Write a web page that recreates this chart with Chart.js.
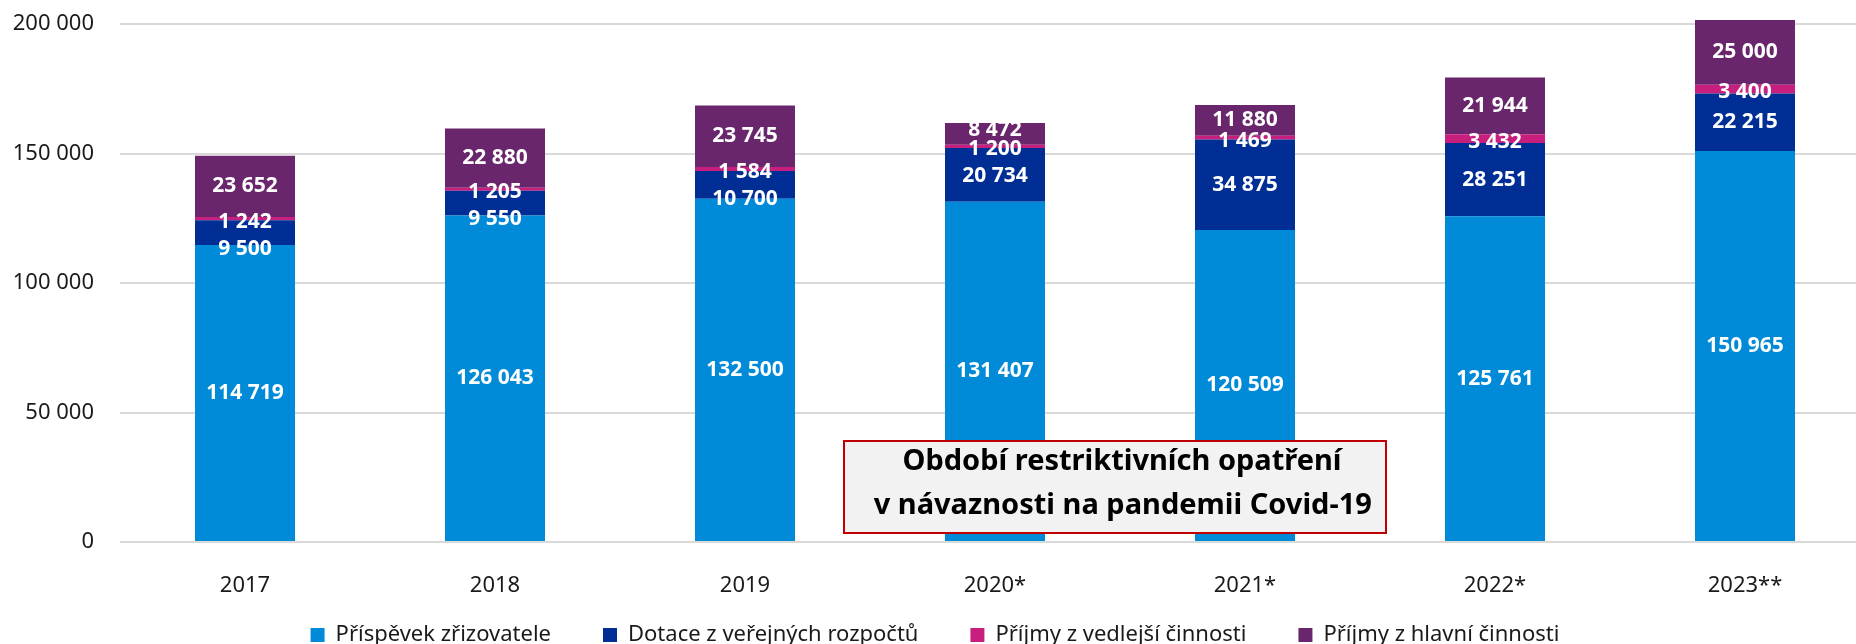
<!DOCTYPE html>
<html lang="cs">
<head>
<meta charset="utf-8">
<title>Financování</title>
<script src="https://cdn.jsdelivr.net/npm/chart.js@4/dist/chart.umd.min.js"></script>
<style>
    html, body { margin: 0; padding: 0; background: #fff; overflow: hidden; }
    .chart-wrap { position: absolute; left: 0; top: 0; width: 1870px; height: 656px; }
</style>
</head>
<body>
<div class="chart-wrap"><canvas id="chart"></canvas></div>
<script>
// Data z grafu
const years = ['2017', '2018', '2019', '2020*', '2021*', '2022*', '2023**'];
const prispevek = [114719, 126043, 132500, 131407, 120509, 125761, 150965];
const dotace = [9500, 9550, 10700, 20734, 34875, 28251, 22215];
const vedlejsi = [1242, 1205, 1584, 1200, 1469, 3432, 3400];
const hlavni = [23652, 22880, 23745, 8472, 11880, 21944, 25000];

const seriesNames = ['Příspěvek zřizovatele', 'Dotace z veřejných rozpočtů', 'Příjmy z vedlejší činnosti', 'Příjmy z hlavní činnosti'];
const yTicks = [0, 50000, 100000, 150000, 200000];
const noteLines = ['Období restriktivních opatření', ' v návaznosti na pandemii Covid-19'];

const colors = ['#008ad8', '#002e94', '#c81e7d', '#69266c'];
const FONT = "'Noto Sans', 'Open Sans', sans-serif";

function fmt(v) {
    return String(v).replace(/\B(?=(\d{3})+(?!\d))/g, ' ');
}

// Popisky hodnot uvnitř sloupců
const valueLabels = {
    id: 'valueLabels',
    afterDatasetsDraw(chart) {
        const ctx = chart.ctx;
        const metas = [0, 1, 2, 3].map(i => chart.getDatasetMeta(i));
        ctx.save();
        ctx.font = 'bold 21px ' + FONT;
        ctx.fillStyle = '#fff';
        ctx.textAlign = 'center';
        ctx.textBaseline = 'middle';
        years.forEach((y, j) => {
            const mid = metas.map(m => (m.data[j].y + m.data[j].base) / 2);
            // malá růžová část - ostatní popisky odsunout, aby se nepřekrývaly
            const pinkY = mid[2] + 3;
            const pos = [mid[0], Math.max(mid[1], pinkY + 27), pinkY, Math.min(mid[3], pinkY - 19)];
            chart.data.datasets.forEach((ds, i) => {
                ctx.fillText(fmt(ds.data[j]), metas[i].data[j].x, pos[i]);
            });
        });
        ctx.restore();
    }
};

// Rámeček s poznámkou mezi roky 2020 a 2021
const noteBox = {
    id: 'noteBox',
    afterDraw(chart) {
        const ctx = chart.ctx;
        const xs = chart.scales.x;
        const ys = chart.scales.y;
        const cx = (xs.getPixelForValue(3) + xs.getPixelForValue(4)) / 2 - 5;
        const w = 542, h = 92;
        const bottom = ys.getPixelForValue(0) - 9;
        const left = cx - w / 2, top = bottom - h;
        ctx.save();
        ctx.fillStyle = '#f2f2f2';
        ctx.fillRect(left, top, w, h);
        ctx.strokeStyle = '#c00000';
        ctx.lineWidth = 2;
        ctx.strokeRect(left, top, w, h);
        ctx.fillStyle = '#000';
        ctx.font = 'bold 29px ' + FONT;
        ctx.textAlign = 'center';
        ctx.textBaseline = 'middle';
        ctx.fillText(noteLines[0], cx + 7, top + 21);
        ctx.fillText(noteLines[1], cx + 4, top + 65);
        ctx.restore();
    }
};

const datasets = [prispevek, dotace, vedlejsi, hlavni].map((data, i) => ({
    label: seriesNames[i],
    data: data,
    backgroundColor: colors[i],
    borderWidth: 0,
    categoryPercentage: 1,
    barPercentage: 0.4,
    clip: false
}));

new Chart(document.getElementById('chart'), {
    type: 'bar',
    data: { labels: years, datasets: datasets },
    options: {
        responsive: true,
        maintainAspectRatio: false,
        animation: false,
        layout: { padding: { top: 24, right: 0, left: 0, bottom: 0 } },
        scales: {
            x: {
                stacked: true,
                grid: { display: false },
                border: { display: false },
                ticks: { color: '#1a1a1a', font: { family: FONT, size: 22 }, padding: 23 },
                afterFit(scale) {
                    scale.height = 30;
                    // popisky přesahují do prostoru legendy, neořezávat je
                    scale._computeLabelArea = () => undefined;
                }
            },
            y: {
                stacked: true,
                min: 0,
                max: 200000,
                afterBuildTicks(scale) { scale.ticks = yTicks.map(v => ({ value: v })); },
                grid: { color: '#d9d9d9', lineWidth: 2, tickLength: 26, tickColor: 'rgba(0,0,0,0)' },
                border: { display: false },
                ticks: {
                    color: '#1a1a1a',
                    font: { family: FONT, size: 22 },
                    padding: 0,
                    callback: v => fmt(v)
                },
                afterFit(scale) { scale.width = 120; }
            }
        },
        plugins: {
            legend: {
                position: 'bottom',
                labels: {
                    color: '#1a1a1a',
                    font: { family: FONT, size: 22 },
                    boxWidth: 14,
                    boxHeight: 14,
                    padding: 52
                }
            },
            tooltip: { enabled: false }
        }
    },
    plugins: [valueLabels, noteBox]
});
</script>
</body>
</html>
